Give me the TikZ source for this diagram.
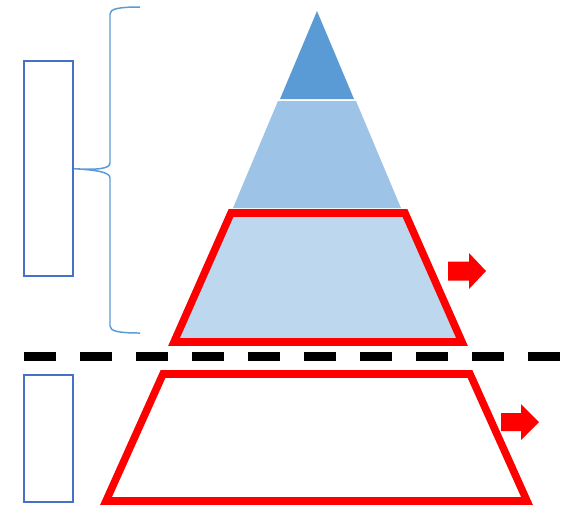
\documentclass[tikz,border=0pt]{standalone}
\usepackage{xcolor}
\usetikzlibrary{positioning}

\definecolor{tierdark}{HTML}{5B9BD5}
\definecolor{tiermid}{HTML}{9DC3E6}
\definecolor{tierlight}{HTML}{BDD7EE}
\definecolor{boxblue}{HTML}{4472C4}
\definecolor{braceblue}{HTML}{5B9BD5}

\begin{document}
\begin{tikzpicture}[x=0.02cm,y=-0.02cm]
    \tikzset{
        side box/.style={rectangle, draw=boxblue, line width=1.1pt, minimum width=0.98cm, inner sep=0},
        brace line/.style={draw=braceblue, line width=0.85pt},
        red outline/.style={draw=red, line width=4.3pt, line join=miter},
        cut line/.style={draw=black, line width=4.6pt, dash pattern=on 0.64cm off 0.48cm},
        block arrow/.style={fill=red}
      }
\useasboundingbox (0,0) rectangle (563,505);

% pyramid tiers
\fill[tierdark] (317,11) -- (354,99) -- (280,99) -- cycle;
\fill[tiermid] (278,101) -- (356,101) -- (401,208) -- (233,208) -- cycle;
\draw[red outline, fill=tierlight] (231,213) -- (405,213) -- (462,342) -- (174,342) -- cycle;

% cut line
\coordinate (cutleft) at (24,356.5);
\coordinate (cutright) at (560,356.5);
\draw[cut line] (cutleft) -- (cutright);

% lower level
\draw[red outline] (163,374) -- (470,374) -- (527,501) -- (106,501) -- cycle;

% side boxes
\node[side box, minimum height=4.3cm] (upperbox) at (48.7,168.7) {};
\node[side box, minimum height=2.54cm] (lowerbox) at (48.7,438.7) {};

% brace
\draw[brace line] (140,7) .. controls (118,7) and (110,9) .. (110,14) -- (110,163)
    .. controls (110,169) and (96,170) .. (upperbox.east)
    .. controls (96,170) and (110,172) .. (110,178) -- (110,326)
    .. controls (110,331) and (118,333) .. (140,333);

% arrows
\coordinate (arrowup) at (448,271);
\coordinate (arrowdown) at (501,422);
\fill[block arrow] (arrowup) ++(0,-9.5) -- ++(21,0) -- ++(0,-8.5) -- ++(17,18) -- ++(-17,18) -- ++(0,-8.5) -- ++(-21,0) -- cycle;
\fill[block arrow] (arrowdown) ++(0,-9) -- ++(20,0) -- ++(0,-9) -- ++(18,18) -- ++(-18,18) -- ++(0,-9) -- ++(-20,0) -- cycle;
\end{tikzpicture}
\end{document}
